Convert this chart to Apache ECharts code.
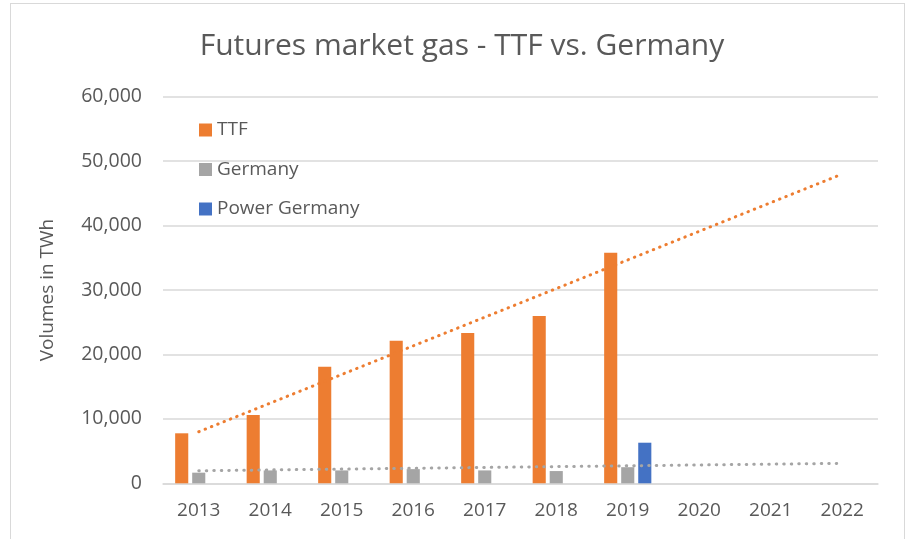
<!DOCTYPE html>
<html>
<head>
<meta charset="utf-8">
<script src="https://cdn.jsdelivr.net/npm/echarts@6/dist/echarts.min.js"></script>
<style>
html,body{margin:0;padding:0;background:#fff;}
#frame{position:absolute;left:10px;top:3px;width:895px;height:540px;border:1px solid #d9d9d9;box-sizing:border-box;}
#c{position:absolute;left:0;top:0;width:908px;height:539px;}
</style>
</head>
<body>
<div id="frame"></div>
<div id="c"></div>
<script>
const years = ['2013','2014','2015','2016','2017','2018','2019','2020','2021','2022'];
const ttf = [7760, 10600, 18100, 22130, 23330, 25970, 35800, null, null, null];
const germany = [1650, 2000, 2000, 2200, 2000, 1900, 2500, null, null, null];
const powerGermany = [null, null, null, null, null, null, 6300, null, null, null];
const ttfTrend = [8000, null, null, null, null, null, null, null, null, 48000];
const germanyTrend = [1950, null, null, null, null, null, null, null, null, 3100];
const yTicks = [0, 10000, 20000, 30000, 40000, 50000, 60000];

const txt = '#595959';
const font = 'Open Sans';
const chart = echarts.init(document.getElementById('c'));
chart.setOption({
  backgroundColor: 'transparent',
  animation: false,
  title: {
    text: 'Futures market gas - TTF vs. Germany',
    left: 457, textAlign: 'center', top: 26,
    textStyle: {color: txt, fontFamily: font, fontSize: 30, fontWeight: 'normal'}
  },
  legend: {
    data: ['TTF', 'Germany', 'Power Germany'],
    orient: 'vertical', left: 194, top: 115,
    itemWidth: 13, itemHeight: 13, itemGap: 19.5,
    icon: 'rect',
    textStyle: {color: txt, fontFamily: font, fontSize: 19, lineHeight: 20}
  },
  grid: {left: 163, right: 30, top: 96.7, bottom: 55.7, containLabel: false},
  xAxis: {
    type: 'category', data: years,
    axisLine: {show: true, lineStyle: {color: '#d9d9d9', width: 1.5}},
    axisTick: {show: false},
    axisLabel: {color: txt, fontFamily: font, fontSize: 19, margin: 18}
  },
  yAxis: {
    type: 'value', min: yTicks[0], max: yTicks[yTicks.length - 1], interval: 10000,
    name: 'Volumes in TWh', nameLocation: 'middle', nameGap: 106, nameRotate: 90,
    nameTextStyle: {color: txt, fontFamily: font, fontSize: 19},
    axisLine: {show: false}, axisTick: {show: false},
    splitLine: {lineStyle: {color: '#d9d9d9', width: 1.5}},
    axisLabel: {
      color: txt, fontFamily: font, fontSize: 19.5, margin: 21,
      formatter: v => v.toLocaleString('en-US')
    }
  },
  series: [
    {name: 'TTF', type: 'bar', data: ttf, itemStyle: {color: '#ed7d31'},
     barGap: '30%', barCategoryGap: '34%'},
    {name: 'Germany', type: 'bar', data: germany, itemStyle: {color: '#a5a5a5'}},
    {name: 'Power Germany', type: 'bar', data: powerGermany, itemStyle: {color: '#4472c4'}},
    {name: 'TTF trend', type: 'line', data: ttfTrend, connectNulls: true, symbol: 'none',
     lineStyle: {color: '#ed7d31', width: 3, type: [0.5, 6.3], cap: 'round'}, z: 5},
    {name: 'Germany trend', type: 'line', data: germanyTrend, connectNulls: true, symbol: 'none',
     lineStyle: {color: '#a5a5a5', width: 3, type: [0.5, 7], cap: 'round'}, z: 5}
  ]
});
</script>
</body>
</html>
